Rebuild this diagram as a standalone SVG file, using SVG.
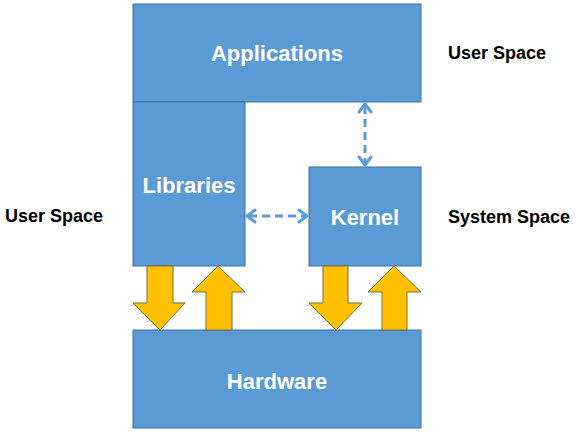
<svg xmlns="http://www.w3.org/2000/svg" width="579" height="443" viewBox="0 0 579 443">
<style>
.box{fill:#5B9BD5;stroke:#41719C;stroke-width:1}
.t{font-family:"Liberation Sans",Arial,sans-serif;font-weight:bold;font-size:22px;fill:#fff;text-anchor:middle;dominant-baseline:central}
.lbl{font-family:"Liberation Sans",Arial,sans-serif;font-weight:bold;font-size:18px;fill:#000;dominant-baseline:central}
.big{fill:#FFC000;stroke:#7F6A3A;stroke-width:1}
.dash{stroke:#5B9BD5;stroke-width:3;stroke-dasharray:8 5;fill:none}
.head{stroke:#5B9BD5;stroke-width:3;fill:none;stroke-linecap:round;stroke-linejoin:round}
</style>
<rect width="579" height="443" fill="#fff"/>
<g id="applications"><rect class="box" x="133" y="4" width="288" height="98"/><text class="t" x="277" y="53">Applications</text></g>
<g id="libraries"><rect class="box" x="133" y="102" width="112" height="164"/><text class="t" x="189" y="185">Libraries</text></g>
<g id="kernel"><rect class="box" x="309" y="167" width="112" height="99"/><text class="t" x="365" y="217">Kernel</text></g>
<g id="hardware"><rect class="box" x="133" y="330" width="288" height="98"/><text class="t" x="277" y="381">Hardware</text></g>
<g id="labels">
<text class="lbl" x="5" y="216">User Space</text>
<text class="lbl" x="448" y="53">User Space</text>
<text class="lbl" x="448" y="217">System Space</text>
</g>
<g id="connectors">
<path class="big" d="M147,266 H173 V303 H185 L160,330 L133,303 H147 Z"/>
<path class="big" d="M206,330 H232 V292 H245 L218,266 L192,292 H206 Z"/>
<path class="big" d="M323,266 H348 V303 H362 L336,330 L309,303 H323 Z"/>
<path class="big" d="M382,330 H407 V292 H421 L394,266 L368,292 H382 Z"/>
<line class="dash" x1="365" y1="106" x2="365" y2="163"/>
<polyline class="head" points="359,112 365,104 371,112"/>
<polyline class="head" points="359,157 365,165 371,157"/>
<line class="dash" x1="249" y1="216" x2="305" y2="216"/>
<polyline class="head" points="255,210 247,216 255,222"/>
<polyline class="head" points="299,210 307,216 299,222"/>
</g>
</svg>
